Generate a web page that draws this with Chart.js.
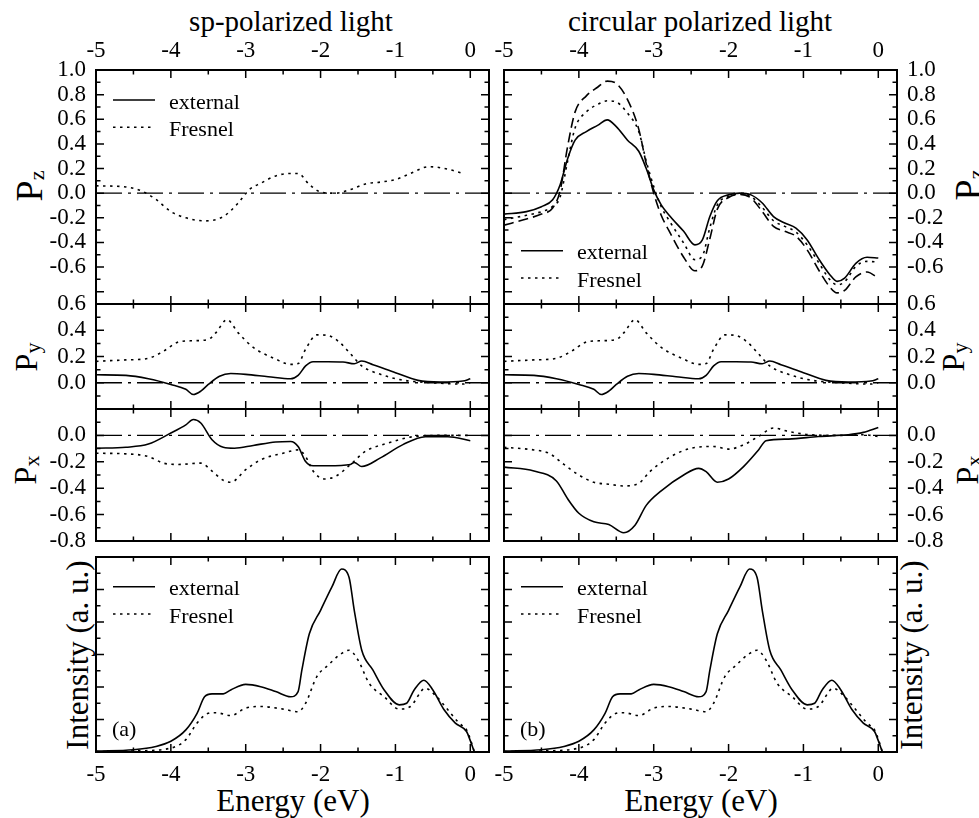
<!DOCTYPE html>
<html>
<head>
<meta charset="utf-8">
<script src="https://cdn.jsdelivr.net/npm/chart.js@4.4.1/dist/chart.umd.min.js"></script>
<style>
  body { margin: 0; background: #fff; width: 979px; height: 818px; position: relative; overflow: hidden;
         font-family: "Liberation Serif", "Times New Roman", serif; color: #000; }
  canvas { position: absolute; left: 0; top: 0; }
  .t { position: absolute; white-space: nowrap; line-height: 1; transform: translate(-50%, -50%); }
  .v { position: absolute; white-space: nowrap; line-height: 1; transform: translate(-50%, -50%) rotate(-90deg); }
  .v sub { font-size: 22px; line-height: 1; vertical-align: -0.12em; }
</style>
</head>
<body>
<div class="t" style="left:291px;top:21px;font-size:29px">sp-polarized light</div>
<div class="t" style="left:700px;top:21px;font-size:29px">circular polarized light</div>
<div class="t" style="left:293px;top:800px;font-size:31px">Energy (eV)</div>
<div class="t" style="left:701px;top:800px;font-size:31px">Energy (eV)</div>

<div class="v" style="left:29px;top:186px;font-size:38px">P<sub>z</sub></div>
<div class="v" style="left:27px;top:357px;font-size:32px">P<sub>y</sub></div>
<div class="v" style="left:26px;top:470px;font-size:32px">P<sub>x</sub></div>
<div class="v" style="left:77px;top:655px;font-size:31px">Intensity (a. u.)</div>
<div class="v" style="left:968px;top:185px;font-size:38px">P<sub>z</sub></div>
<div class="v" style="left:954px;top:357px;font-size:32px">P<sub>y</sub></div>
<div class="v" style="left:968px;top:470px;font-size:32px">P<sub>x</sub></div>
<div class="v" style="left:911px;top:655px;font-size:31px">Intensity (a. u.)</div>

<script>
const FONT = '"Liberation Serif", "Times New Roman", serif';

// tick labels
const energyTicks = [-5, -4, -3, -2, -1, 0];
const pzTicks = [1.0, 0.8, 0.6, 0.4, 0.2, 0.0, -0.2, -0.4, -0.6];
const pyTicks = [0.6, 0.4, 0.2, 0.0];
const pxTicks = [0.0, -0.2, -0.4, -0.6, -0.8];
const keyLabels = ['external', 'Fresnel'];

// zero reference line
const zeroE = [-5, 0.25];
const zeroV = [0, 0];

// P_z, sp-polarized light (Fresnel)
const pzSpFresE = [-5, -4.6, -4.4, -4.2, -4.0, -3.8, -3.55, -3.3, -3.1, -2.95, -2.8, -2.6, -2.4, -2.3, -2.15, -2.0, -1.8, -1.6, -1.4, -1.2, -1.0, -0.8, -0.55, -0.3, -0.1];
const pzSpFresV = [0.06, 0.05, 0.02, -0.05, -0.15, -0.20, -0.225, -0.19, -0.08, 0.03, 0.08, 0.14, 0.16, 0.16, 0.07, 0.01, 0.0, 0.03, 0.075, 0.09, 0.11, 0.16, 0.215, 0.195, 0.16];

// P_z, circular polarized light
const pzCircE = [-5, -4.7, -4.5, -4.35, -4.25, -4.15, -4.05, -3.9, -3.75, -3.62, -3.5, -3.35, -3.2, -3.1, -3.0, -2.9, -2.8, -2.6, -2.45, -2.35, -2.25, -2.15, -2.0, -1.85, -1.7, -1.55, -1.4, -1.25, -1.1, -0.95, -0.8, -0.65, -0.55, -0.45, -0.3, -0.15, 0];
const pzCircExtV = [-0.17, -0.15, -0.11, -0.054, 0.068, 0.28, 0.43, 0.50, 0.55, 0.595, 0.54, 0.43, 0.34, 0.20, 0.027, -0.095, -0.175, -0.31, -0.42, -0.38, -0.19, -0.062, -0.014, 0.0, -0.014, -0.08, -0.19, -0.243, -0.284, -0.38, -0.53, -0.66, -0.716, -0.69, -0.57, -0.52, -0.527];
const pzCircFresV = [-0.215, -0.18, -0.15, -0.108, -0.03, 0.26, 0.53, 0.66, 0.72, 0.75, 0.74, 0.65, 0.50, 0.26, 0.054, -0.11, -0.216, -0.405, -0.54, -0.51, -0.28, -0.095, -0.027, -0.005, -0.027, -0.116, -0.224, -0.27, -0.316, -0.42, -0.56, -0.70, -0.745, -0.72, -0.595, -0.554, -0.56];
const pzCircThirdV = [-0.26, -0.21, -0.17, -0.12, 0.02, 0.38, 0.66, 0.79, 0.86, 0.91, 0.89, 0.76, 0.52, 0.24, 0.0, -0.18, -0.30, -0.52, -0.63, -0.59, -0.37, -0.13, -0.035, -0.01, -0.04, -0.15, -0.27, -0.31, -0.35, -0.46, -0.62, -0.76, -0.81, -0.79, -0.68, -0.64, -0.69];

// P_y (same in both columns)
const pyExtE = [-5, -4.6, -4.3, -4.0, -3.8, -3.7, -3.6, -3.5, -3.35, -3.2, -3.0, -2.7, -2.4, -2.3, -2.2, -2.1, -1.9, -1.7, -1.55, -1.45, -1.3, -1.0, -0.7, -0.4, -0.1, 0];
const pyExtV = [0.061, 0.056, 0.03, -0.013, -0.05, -0.09, -0.064, -0.013, 0.05, 0.07, 0.064, 0.046, 0.03, 0.056, 0.128, 0.16, 0.16, 0.158, 0.145, 0.166, 0.138, 0.077, 0.018, 0.005, 0.013, 0.03];
const pyFresE = [-5, -4.6, -4.3, -4.1, -3.9, -3.7, -3.5, -3.4, -3.25, -3.1, -2.9, -2.6, -2.4, -2.3, -2.2, -2.05, -1.9, -1.75, -1.6, -1.45, -1.2, -0.9, -0.5, -0.1, 0];
const pyFresV = [0.163, 0.174, 0.186, 0.24, 0.31, 0.32, 0.33, 0.38, 0.48, 0.38, 0.27, 0.18, 0.14, 0.146, 0.255, 0.365, 0.36, 0.31, 0.22, 0.128, 0.064, 0.02, 0.0, -0.01, 0.0];

// P_x, sp-polarized light
const pxSpExtE = [-5, -4.6, -4.3, -4.0, -3.8, -3.7, -3.6, -3.45, -3.3, -3.15, -2.9, -2.6, -2.4, -2.3, -2.2, -2.1, -1.9, -1.6, -1.55, -1.45, -1.2, -0.9, -0.6, -0.3, 0];
const pxSpExtV = [-0.097, -0.09, -0.066, 0.018, 0.08, 0.12, 0.094, -0.033, -0.09, -0.097, -0.076, -0.05, -0.046, -0.084, -0.198, -0.23, -0.23, -0.22, -0.205, -0.236, -0.17, -0.07, -0.01, -0.01, -0.04];
const pxSpFresE = [-5, -4.6, -4.3, -4.1, -3.9, -3.6, -3.45, -3.3, -3.2, -3.0, -2.8, -2.5, -2.3, -2.2, -2.1, -1.95, -1.8, -1.6, -1.4, -1.1, -0.8, -0.4, 0];
const pxSpFresV = [-0.135, -0.14, -0.16, -0.21, -0.22, -0.21, -0.27, -0.34, -0.355, -0.26, -0.185, -0.135, -0.11, -0.16, -0.27, -0.33, -0.31, -0.22, -0.12, -0.058, -0.013, 0.0, 0.0];

// P_x, circular polarized light
const pxCircExtE = [-5, -4.6, -4.3, -4.15, -4.0, -3.8, -3.6, -3.4, -3.25, -3.1, -2.9, -2.6, -2.4, -2.3, -2.15, -2.0, -1.8, -1.6, -1.5, -1.2, -0.8, -0.4, -0.2, 0];
const pxCircExtV = [-0.24, -0.27, -0.345, -0.48, -0.59, -0.655, -0.675, -0.737, -0.68, -0.53, -0.42, -0.30, -0.25, -0.275, -0.355, -0.33, -0.236, -0.11, -0.04, -0.028, -0.008, 0.005, 0.023, 0.06];
const pxCircFresE = [-5, -4.6, -4.4, -4.2, -4.0, -3.8, -3.6, -3.4, -3.2, -3.05, -2.8, -2.5, -2.2, -2.0, -1.8, -1.6, -1.4, -1.2, -0.9, -0.5, -0.2, 0];
const pxCircFresV = [-0.09, -0.11, -0.135, -0.22, -0.30, -0.355, -0.37, -0.383, -0.363, -0.274, -0.17, -0.097, -0.084, -0.104, -0.071, -0.008, 0.056, 0.03, 0.005, 0.0, 0.005, -0.008];

// intensity (same in both columns)
const intExtE = [-5, -4.5, -4.2, -4.0, -3.8, -3.65, -3.55, -3.45, -3.3, -3.2, -3.0, -2.8, -2.6, -2.4, -2.3, -2.25, -2.15, -2.0, -1.85, -1.72, -1.62, -1.55, -1.45, -1.3, -1.15, -0.95, -0.85, -0.75, -0.62, -0.5, -0.35, -0.2, -0.05, 0.0, 0.055];
const intExtV = [0.03, 0.07, 0.17, 0.33, 0.68, 1.19, 1.70, 1.79, 1.79, 1.91, 2.08, 2.01, 1.86, 1.70, 1.86, 2.52, 3.64, 4.36, 5.07, 5.63, 5.38, 4.36, 3.13, 2.52, 1.91, 1.45, 1.50, 1.91, 2.21, 1.91, 1.30, 0.89, 0.63, 0.35, 0.0];
const intFresE = [-5, -4.5, -4.0, -3.8, -3.65, -3.5, -3.4, -3.2, -3.0, -2.8, -2.5, -2.3, -2.2, -2.05, -1.9, -1.75, -1.62, -1.5, -1.35, -1.15, -0.95, -0.8, -0.6, -0.45, -0.3, -0.15, -0.05, 0.0, 0.055];
const intFresV = [0.01, 0.03, 0.12, 0.38, 0.89, 1.19, 1.21, 1.12, 1.35, 1.40, 1.32, 1.24, 1.50, 2.32, 2.67, 2.98, 3.13, 2.83, 2.11, 1.70, 1.32, 1.40, 1.96, 1.70, 1.30, 0.89, 0.68, 0.4, 0.0];

const SOLID = [], DOTTED = [2.5, 4.5], DASHED = [10, 5], DASHDOT = [26, 6, 3, 6];

const near = (a, b) => Math.abs(a - b) < 1e-6;
const isMultiple = (v, m) => near(v / m, Math.round(v / m));
const pts = (E, V) => E.map((e, i) => ({ x: e, y: V[i] }));

function curve(E, V, dash) {
  return { data: pts(E, V), borderColor: '#000', borderWidth: 1.6, borderDash: dash,
           pointRadius: 0, fill: false, cubicInterpolationMode: 'monotone' };
}
function zeroLine() {
  return { data: pts(zeroE, zeroV), borderColor: '#000', borderWidth: 1.3, borderDash: DASHDOT, pointRadius: 0 };
}

// frame, inward ticks on all sides, key and panel tag
function deco(cfg) {
  return {
    id: 'deco',
    afterDraw(chart) {
      const ctx = chart.ctx;
      const { left, right, top, bottom } = chart.chartArea;
      const xs = chart.scales.x, ys = chart.scales.y;
      ctx.save();
      ctx.strokeStyle = '#000';
      ctx.lineWidth = 1.5;
      ctx.setLineDash([]);
      xs.ticks.forEach(t => {
        if (!isMultiple(t.value, 0.5)) return;
        const len = isMultiple(t.value, 1) ? 8 : 4.5;
        const p = xs.getPixelForValue(t.value);
        ctx.beginPath();
        ctx.moveTo(p, top); ctx.lineTo(p, top + len);
        ctx.moveTo(p, bottom); ctx.lineTo(p, bottom - len);
        ctx.stroke();
      });
      ys.ticks.forEach(t => {
        const len = isMultiple(t.value, cfg.yMajor) ? 8 : 4.5;
        const p = ys.getPixelForValue(t.value);
        ctx.beginPath();
        ctx.moveTo(left, p); ctx.lineTo(left + len, p);
        ctx.moveTo(right, p); ctx.lineTo(right - len, p);
        ctx.stroke();
      });
      ctx.lineWidth = 2;
      ctx.strokeRect(left, top, right - left, bottom - top);

      ctx.fillStyle = '#000';
      if (cfg.key) {
        cfg.key.dashes.forEach((dash, i) => {
          const y = top + cfg.key.dy + i * 27.3;
          ctx.lineWidth = 1.6;
          ctx.setLineDash(dash);
          ctx.beginPath();
          ctx.moveTo(left + 17, y); ctx.lineTo(left + 59, y);
          ctx.stroke();
          ctx.setLineDash([]);
          ctx.font = '22px ' + FONT;
          ctx.textBaseline = 'alphabetic';
          ctx.textAlign = 'left';
          ctx.fillText(keyLabels[i], left + 73, y + 8.5);
        });
      }
      if (cfg.tag) {
        ctx.font = '22px ' + FONT;
        ctx.textBaseline = 'alphabetic';
        ctx.textAlign = 'left';
        ctx.fillText(cfg.tag, left + 16, bottom - 16);
      }
      ctx.restore();
    }
  };
}

function panel(cfg) {
  const c = document.createElement('canvas');
  c.width = 979; c.height = 818;
  document.body.appendChild(c);
  const [l, r] = cfg.col, [t, b] = cfg.row;
  const tickFont = { family: FONT, size: 23 };
  // the axis boxes take the space outside the plot area on their own side
  const pad = { left: l, right: 979 - r, top: t, bottom: 818 - b };
  const yW = cfg.yPos === 'left' ? l : 979 - r;
  pad[cfg.yPos] = 0;
  let xH = 0;
  if (cfg.xPos === 'top') { xH = t; pad.top = 0; }
  if (cfg.xPos === 'bottom') { xH = 818 - b; pad.bottom = 0; }
  new Chart(c, {
    type: 'line',
    data: { datasets: cfg.datasets },
    options: {
      responsive: false,
      animation: false,
      devicePixelRatio: 1,
      layout: { padding: pad },
      plugins: { legend: { display: false }, tooltip: { enabled: false } },
      scales: {
        x: {
          type: 'linear', position: cfg.xPos || 'bottom', min: -5, max: 0.25,
          grid: { display: false, drawTicks: false }, border: { display: false },
          ticks: {
            display: !!cfg.xPos, stepSize: 0.5, autoSkip: false, includeBounds: false, maxRotation: 0,
            padding: cfg.xPos === 'top' ? 5 : 9, font: tickFont, color: '#000',
            callback: v => energyTicks.some(e => near(e, v)) ? String(Math.round(v)) : ''
          },
          afterFit: s => { s.height = xH; }
        },
        y: {
          type: 'linear', position: cfg.yPos, min: cfg.yMin, max: cfg.yMax,
          grid: { display: false, drawTicks: false }, border: { display: false },
          ticks: {
            display: !!cfg.yLabels, stepSize: cfg.yStep, autoSkip: false, includeBounds: false,
            padding: 10, font: tickFont, color: '#000',
            callback: v => (cfg.yLabels || []).some(e => near(e, v)) ? (Math.round(v * 10) / 10 + 0).toFixed(1) : ''
          },
          afterFit: s => { s.width = yW; }
        }
      }
    },
    plugins: [deco(cfg)]
  });
}

const colL = [96, 489], colR = [504, 897];
const rowPz = [70, 304], rowPy = [304, 409], rowPx = [409, 541], rowI = [557, 752];

// left column: sp-polarized light
panel({ col: colL, row: rowPz, xPos: 'top', yPos: 'left', yMin: -0.9, yMax: 1.0, yStep: 0.1, yMajor: 0.2, yLabels: pzTicks,
  key: { dy: 30, dashes: [SOLID, DOTTED] },
  datasets: [zeroLine(), curve(pzSpFresE, pzSpFresV, DOTTED)] });
panel({ col: colL, row: rowPy, yPos: 'left', yMin: -0.2, yMax: 0.6, yStep: 0.1, yMajor: 0.2, yLabels: pyTicks,
  datasets: [zeroLine(), curve(pyFresE, pyFresV, DOTTED), curve(pyExtE, pyExtV, SOLID)] });
panel({ col: colL, row: rowPx, yPos: 'left', yMin: -0.8, yMax: 0.2, yStep: 0.1, yMajor: 0.2, yLabels: pxTicks,
  datasets: [zeroLine(), curve(pxSpFresE, pxSpFresV, DOTTED), curve(pxSpExtE, pxSpExtV, SOLID)] });
panel({ col: colL, row: rowI, xPos: 'bottom', yPos: 'left', yMin: 0, yMax: 6, yStep: 0.5, yMajor: 1,
  key: { dy: 29.7, dashes: [SOLID, DOTTED] }, tag: '(a)',
  datasets: [curve(intFresE, intFresV, DOTTED), curve(intExtE, intExtV, SOLID)] });

// right column: circular polarized light
panel({ col: colR, row: rowPz, xPos: 'top', yPos: 'right', yMin: -0.9, yMax: 1.0, yStep: 0.1, yMajor: 0.2, yLabels: pzTicks,
  key: { dy: 180.7, dashes: [SOLID, DOTTED] },
  datasets: [zeroLine(), curve(pzCircE, pzCircThirdV, DASHED), curve(pzCircE, pzCircFresV, DOTTED), curve(pzCircE, pzCircExtV, SOLID)] });
panel({ col: colR, row: rowPy, yPos: 'right', yMin: -0.2, yMax: 0.6, yStep: 0.1, yMajor: 0.2, yLabels: pyTicks,
  datasets: [zeroLine(), curve(pyFresE, pyFresV, DOTTED), curve(pyExtE, pyExtV, SOLID)] });
panel({ col: colR, row: rowPx, yPos: 'right', yMin: -0.8, yMax: 0.2, yStep: 0.1, yMajor: 0.2, yLabels: pxTicks,
  datasets: [zeroLine(), curve(pxCircFresE, pxCircFresV, DOTTED), curve(pxCircExtE, pxCircExtV, SOLID)] });
panel({ col: colR, row: rowI, xPos: 'bottom', yPos: 'right', yMin: 0, yMax: 6, yStep: 0.5, yMajor: 1,
  key: { dy: 29.7, dashes: [SOLID, DOTTED] }, tag: '(b)',
  datasets: [curve(intFresE, intFresV, DOTTED), curve(intExtE, intExtV, SOLID)] });
</script>
</body>
</html>
